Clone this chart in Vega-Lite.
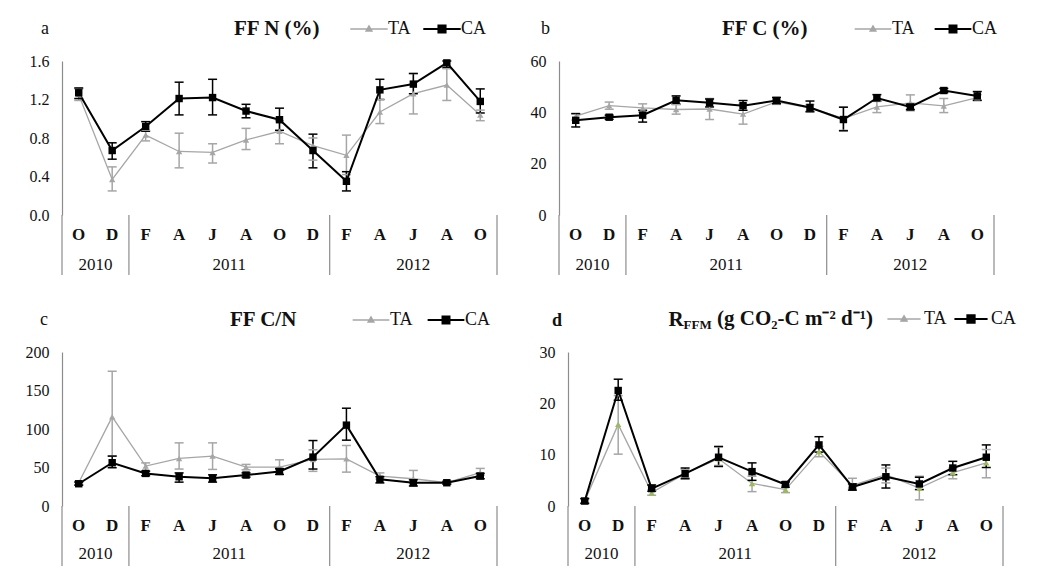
{
  "$schema": "https://vega.github.io/schema/vega-lite/v6.json",
  "background": "white",
  "padding": {"left": 25, "top": 20, "right": 0, "bottom": 0},
  "columns": 1,
  "align": "none",
  "spacing": 32,
  "resolve": {"scale": {"color": "independent"}, "legend": {"color": "independent"}},
  "config": {
    "font": "Liberation Serif",
    "view": {"stroke": null},
    "axis": {"labelFont": "Liberation Serif", "labelFontSize": 16, "labelColor": "#111", "labelPadding": 13, "labelOverlap": false, "domainColor": "#8c8c8c", "domainWidth": 1.2, "ticks": false, "grid": false, "titleFont": "Liberation Serif", "titleColor": "#111"},
    "legend": {"labelFont": "Liberation Serif", "titleFont": "Liberation Serif", "labelColor": "#111", "titleColor": "#111", "symbolOpacity": 1}
  },
  "datasets": {
    "a": [
      {"i":0,"month":"O","year":"2010","treat":"TA","mean":1.25,"lo":1.19,"hi":1.31},
      {"i":1,"month":"D","year":"2010","treat":"TA","mean":0.37,"lo":0.25,"hi":0.50},
      {"i":2,"month":"F","year":"2011","treat":"TA","mean":0.83,"lo":0.77,"hi":0.88},
      {"i":3,"month":"A","year":"2011","treat":"TA","mean":0.66,"lo":0.49,"hi":0.85},
      {"i":4,"month":"J","year":"2011","treat":"TA","mean":0.65,"lo":0.54,"hi":0.74},
      {"i":5,"month":"A","year":"2011","treat":"TA","mean":0.78,"lo":0.68,"hi":0.90},
      {"i":6,"month":"O","year":"2011","treat":"TA","mean":0.87,"lo":0.74,"hi":0.98},
      {"i":7,"month":"D","year":"2011","treat":"TA","mean":0.72,"lo":0.57,"hi":0.80},
      {"i":8,"month":"F","year":"2012","treat":"TA","mean":0.62,"lo":0.42,"hi":0.83},
      {"i":9,"month":"A","year":"2012","treat":"TA","mean":1.07,"lo":0.95,"hi":1.20},
      {"i":10,"month":"J","year":"2012","treat":"TA","mean":1.26,"lo":1.05,"hi":1.47},
      {"i":11,"month":"A","year":"2012","treat":"TA","mean":1.35,"lo":1.19,"hi":1.52},
      {"i":12,"month":"O","year":"2012","treat":"TA","mean":1.04,"lo":0.98,"hi":1.09},
      {"i":0,"month":"O","year":"2010","treat":"CA","mean":1.27,"lo":1.21,"hi":1.32},
      {"i":1,"month":"D","year":"2010","treat":"CA","mean":0.67,"lo":0.58,"hi":0.75},
      {"i":2,"month":"F","year":"2011","treat":"CA","mean":0.92,"lo":0.87,"hi":0.97},
      {"i":3,"month":"A","year":"2011","treat":"CA","mean":1.21,"lo":1.04,"hi":1.38},
      {"i":4,"month":"J","year":"2011","treat":"CA","mean":1.22,"lo":1.04,"hi":1.41},
      {"i":5,"month":"A","year":"2011","treat":"CA","mean":1.08,"lo":1.01,"hi":1.15},
      {"i":6,"month":"O","year":"2011","treat":"CA","mean":0.99,"lo":0.88,"hi":1.11},
      {"i":7,"month":"D","year":"2011","treat":"CA","mean":0.67,"lo":0.49,"hi":0.84},
      {"i":8,"month":"F","year":"2012","treat":"CA","mean":0.35,"lo":0.25,"hi":0.45},
      {"i":9,"month":"A","year":"2012","treat":"CA","mean":1.30,"lo":1.20,"hi":1.41},
      {"i":10,"month":"J","year":"2012","treat":"CA","mean":1.36,"lo":1.26,"hi":1.47},
      {"i":11,"month":"A","year":"2012","treat":"CA","mean":1.58,"lo":1.53,"hi":1.60},
      {"i":12,"month":"O","year":"2012","treat":"CA","mean":1.18,"lo":1.06,"hi":1.31}
    ],
    "b": [
      {"i":0,"month":"O","year":"2010","treat":"TA","mean":38.5,"lo":37.0,"hi":39.5},
      {"i":1,"month":"D","year":"2010","treat":"TA","mean":42.6,"lo":41.2,"hi":44.0},
      {"i":2,"month":"F","year":"2011","treat":"TA","mean":41.7,"lo":40.1,"hi":43.3},
      {"i":3,"month":"A","year":"2011","treat":"TA","mean":41.1,"lo":39.3,"hi":43.0},
      {"i":4,"month":"J","year":"2011","treat":"TA","mean":41.3,"lo":37.2,"hi":45.4},
      {"i":5,"month":"A","year":"2011","treat":"TA","mean":39.3,"lo":35.4,"hi":43.2},
      {"i":6,"month":"O","year":"2011","treat":"TA","mean":44.1,"lo":43.1,"hi":45.1},
      {"i":7,"month":"D","year":"2011","treat":"TA","mean":41.7,"lo":40.5,"hi":43.0},
      {"i":8,"month":"F","year":"2012","treat":"TA","mean":37.6,"lo":33.0,"hi":42.0},
      {"i":9,"month":"A","year":"2012","treat":"TA","mean":42.1,"lo":39.9,"hi":44.3},
      {"i":10,"month":"J","year":"2012","treat":"TA","mean":43.7,"lo":40.6,"hi":46.8},
      {"i":11,"month":"A","year":"2012","treat":"TA","mean":42.5,"lo":39.9,"hi":45.4},
      {"i":12,"month":"O","year":"2012","treat":"TA","mean":45.7,"lo":44.5,"hi":46.9},
      {"i":0,"month":"O","year":"2010","treat":"CA","mean":36.9,"lo":34.3,"hi":39.5},
      {"i":1,"month":"D","year":"2010","treat":"CA","mean":38.1,"lo":37.3,"hi":38.9},
      {"i":2,"month":"F","year":"2011","treat":"CA","mean":38.9,"lo":36.2,"hi":40.8},
      {"i":3,"month":"A","year":"2011","treat":"CA","mean":44.7,"lo":43.2,"hi":46.4},
      {"i":4,"month":"J","year":"2011","treat":"CA","mean":43.7,"lo":42.1,"hi":45.2},
      {"i":5,"month":"A","year":"2011","treat":"CA","mean":42.6,"lo":40.8,"hi":44.6},
      {"i":6,"month":"O","year":"2011","treat":"CA","mean":44.6,"lo":43.4,"hi":45.8},
      {"i":7,"month":"D","year":"2011","treat":"CA","mean":41.9,"lo":40.2,"hi":44.4},
      {"i":8,"month":"F","year":"2012","treat":"CA","mean":37.2,"lo":32.8,"hi":42.0},
      {"i":9,"month":"A","year":"2012","treat":"CA","mean":45.6,"lo":44.3,"hi":46.9},
      {"i":10,"month":"J","year":"2012","treat":"CA","mean":42.1,"lo":41.1,"hi":43.1},
      {"i":11,"month":"A","year":"2012","treat":"CA","mean":48.5,"lo":47.7,"hi":49.3},
      {"i":12,"month":"O","year":"2012","treat":"CA","mean":46.4,"lo":44.7,"hi":48.1}
    ],
    "c": [
      {"i":0,"month":"O","year":"2010","treat":"TA","mean":30.2,"lo":28,"hi":32},
      {"i":1,"month":"D","year":"2010","treat":"TA","mean":115.8,"lo":65,"hi":175},
      {"i":2,"month":"F","year":"2011","treat":"TA","mean":51.8,"lo":45,"hi":56},
      {"i":3,"month":"A","year":"2011","treat":"TA","mean":61.8,"lo":48,"hi":82},
      {"i":4,"month":"J","year":"2011","treat":"TA","mean":64.8,"lo":47.5,"hi":82},
      {"i":5,"month":"A","year":"2011","treat":"TA","mean":50.5,"lo":47,"hi":54},
      {"i":6,"month":"O","year":"2011","treat":"TA","mean":50.5,"lo":47.5,"hi":60},
      {"i":7,"month":"D","year":"2011","treat":"TA","mean":60.5,"lo":45,"hi":73},
      {"i":8,"month":"F","year":"2012","treat":"TA","mean":61.3,"lo":44,"hi":78.6},
      {"i":9,"month":"A","year":"2012","treat":"TA","mean":38.9,"lo":35,"hi":43},
      {"i":10,"month":"J","year":"2012","treat":"TA","mean":35.4,"lo":30,"hi":46.2},
      {"i":11,"month":"A","year":"2012","treat":"TA","mean":30.2,"lo":28.5,"hi":32},
      {"i":12,"month":"O","year":"2012","treat":"TA","mean":43.2,"lo":40,"hi":48.8},
      {"i":0,"month":"O","year":"2010","treat":"CA","mean":28.9,"lo":27,"hi":31},
      {"i":1,"month":"D","year":"2010","treat":"CA","mean":56.2,"lo":49.7,"hi":64.8},
      {"i":2,"month":"F","year":"2011","treat":"CA","mean":42.3,"lo":39.3,"hi":45.3},
      {"i":3,"month":"A","year":"2011","treat":"CA","mean":38,"lo":31,"hi":43},
      {"i":4,"month":"J","year":"2011","treat":"CA","mean":35.9,"lo":31,"hi":40.5},
      {"i":5,"month":"A","year":"2011","treat":"CA","mean":40.2,"lo":37.5,"hi":43},
      {"i":6,"month":"O","year":"2011","treat":"CA","mean":44.9,"lo":41,"hi":48.5},
      {"i":7,"month":"D","year":"2011","treat":"CA","mean":63.5,"lo":48,"hi":85},
      {"i":8,"month":"F","year":"2012","treat":"CA","mean":105,"lo":85.5,"hi":127},
      {"i":9,"month":"A","year":"2012","treat":"CA","mean":34.6,"lo":30,"hi":38},
      {"i":10,"month":"J","year":"2012","treat":"CA","mean":30.2,"lo":26,"hi":34},
      {"i":11,"month":"A","year":"2012","treat":"CA","mean":30.2,"lo":28.5,"hi":32},
      {"i":12,"month":"O","year":"2012","treat":"CA","mean":38.9,"lo":35.4,"hi":42.4}
    ],
    "d": [
      {"i":0,"month":"O","year":"2010","treat":"TA","mean":1.0,"lo":0.6,"hi":1.4},
      {"i":1,"month":"D","year":"2010","treat":"TA","mean":15.9,"lo":10.1,"hi":21.5},
      {"i":2,"month":"F","year":"2011","treat":"TA","mean":2.6,"lo":2.1,"hi":3.1},
      {"i":3,"month":"A","year":"2011","treat":"TA","mean":6.3,"lo":5.5,"hi":7.1},
      {"i":4,"month":"J","year":"2011","treat":"TA","mean":9.2,"lo":7.9,"hi":11.5},
      {"i":5,"month":"A","year":"2011","treat":"TA","mean":4.4,"lo":2.8,"hi":5.8},
      {"i":6,"month":"O","year":"2011","treat":"TA","mean":3.2,"lo":2.6,"hi":3.9},
      {"i":7,"month":"D","year":"2011","treat":"TA","mean":10.6,"lo":9.6,"hi":11.6},
      {"i":8,"month":"F","year":"2012","treat":"TA","mean":4.0,"lo":3.5,"hi":5.4},
      {"i":9,"month":"A","year":"2012","treat":"TA","mean":6.1,"lo":4.5,"hi":7.4},
      {"i":10,"month":"J","year":"2012","treat":"TA","mean":3.5,"lo":1.2,"hi":5.8},
      {"i":11,"month":"A","year":"2012","treat":"TA","mean":6.5,"lo":5.3,"hi":7.4},
      {"i":12,"month":"O","year":"2012","treat":"TA","mean":8.4,"lo":5.5,"hi":11.0},
      {"i":0,"month":"O","year":"2010","treat":"CA","mean":0.97,"lo":0.5,"hi":1.45},
      {"i":1,"month":"D","year":"2010","treat":"CA","mean":22.5,"lo":20.6,"hi":24.7},
      {"i":2,"month":"F","year":"2011","treat":"CA","mean":3.4,"lo":2.9,"hi":4.1},
      {"i":3,"month":"A","year":"2011","treat":"CA","mean":6.3,"lo":5.3,"hi":7.4},
      {"i":4,"month":"J","year":"2011","treat":"CA","mean":9.5,"lo":7.7,"hi":11.6},
      {"i":5,"month":"A","year":"2011","treat":"CA","mean":6.7,"lo":5.0,"hi":8.4},
      {"i":6,"month":"O","year":"2011","treat":"CA","mean":4.2,"lo":3.7,"hi":4.7},
      {"i":7,"month":"D","year":"2011","treat":"CA","mean":11.9,"lo":10.5,"hi":13.5},
      {"i":8,"month":"F","year":"2012","treat":"CA","mean":3.7,"lo":3.1,"hi":4.3},
      {"i":9,"month":"A","year":"2012","treat":"CA","mean":5.7,"lo":3.5,"hi":8.0},
      {"i":10,"month":"J","year":"2012","treat":"CA","mean":4.3,"lo":3.2,"hi":5.6},
      {"i":11,"month":"A","year":"2012","treat":"CA","mean":7.4,"lo":6.1,"hi":8.7},
      {"i":12,"month":"O","year":"2012","treat":"CA","mean":9.5,"lo":7.5,"hi":11.9}
    ]
  },
  "concat": [
    {
      "spacing": 28,
      "resolve": {"scale": {"color": "independent"}, "legend": {"color": "independent"}},
      "hconcat": [
        {
          "width": 435, "height": 154,
          "data": {"name": "a"},
          "title": {"text": "a", "frame": "group", "anchor": "start", "dx": -21, "offset": -32, "baseline": "alphabetic", "fontSize": 18, "fontWeight": "normal", "font": "Liberation Serif", "color": "#111"},
          "encoding": {"x": {"field": "i", "type": "quantitative", "scale": {"domain": [-0.5, 12.5]}, "axis": null}},
          "layer": [
            {"mark": {"type": "line", "strokeWidth": 1.3}, "transform": [{"filter": "datum.treat === 'TA'"}], "encoding": {
              "y": {"field": "mean", "type": "quantitative", "scale": {"domain": [0, 1.6], "nice": false}, "axis": {"values": [0, 0.4, 0.8, 1.2, 1.6], "tickCount": 5, "labelOverlap": false, "format": ".1f", "title": null, "minExtent": 33}},
              "color": {"field": "treat", "type": "nominal", "scale": {"domain": ["TA", "CA"], "range": ["#a6a6a6", "#000000"]},
                "legend": {"orient": "none", "legendX": 172, "legendY": -41, "direction": "horizontal", "title": "FF N (%)", "titleOrient": "left", "titleAnchor": "middle", "titleBaseline": "middle", "titleFontSize": 21, "titleFontWeight": "bold", "titlePadding": 39, "labelFontSize": 18, "labelOffset": 10, "columnPadding": 8, "symbolSize": 1400,
                  "symbolType": {"expr": "datum.value === 'TA' ? 'M-1,0H1M0,-0.17L0.16,0.11H-0.16Z' : 'M-1,0H1M-0.19,-0.19H0.19V0.19H-0.19Z'"},
                  "symbolFillColor": {"expr": "datum.value === 'TA' ? '#a6a6a6' : '#000000'"},
                  "symbolStrokeWidth": {"expr": "datum.value === 'TA' ? 1.3 : 2"}}}}},
            {"transform": [{"aggregate": [{"op": "count", "as": "n"}]}], "mark": {"type": "rule", "color": "#8c8c8c", "strokeWidth": 1.2}, "encoding": {"x": {"datum": -0.5}, "x2": {"datum": 12.5}, "y": {"datum": 0}}},
            {"transform": [{"aggregate": [{"op": "max", "field": "i", "as": "i_max"}]}], "mark": {"type": "rule", "color": "#8c8c8c", "strokeWidth": 1.2, "xOffset": 16.73, "y2Offset": 60}, "encoding": {"x": {"field": "i_max", "type": "quantitative"}, "y": {"datum": 0}, "y2": {"datum": 0}}},
            {"transform": [{"aggregate": [{"op": "min", "field": "i", "as": "i_min"}], "groupby": ["year"]}], "mark": {"type": "rule", "color": "#8c8c8c", "strokeWidth": 1.2, "xOffset": -16.73, "y2Offset": 60}, "encoding": {"x": {"field": "i_min", "type": "quantitative"}, "y": {"datum": 0}, "y2": {"datum": 0}}},
            {"transform": [{"filter": "datum.treat === 'CA'"}], "mark": {"type": "text", "yOffset": 20, "fontSize": 17, "fontWeight": "bold", "color": "#111", "baseline": "middle"}, "encoding": {"y": {"datum": 0}, "text": {"field": "month"}}},
            {"transform": [{"aggregate": [{"op": "mean", "field": "i", "as": "i_mid"}], "groupby": ["year"]}], "mark": {"type": "text", "yOffset": 50, "fontSize": 17, "color": "#111", "baseline": "middle"}, "encoding": {"x": {"field": "i_mid", "type": "quantitative"}, "y": {"datum": 0}, "text": {"field": "year"}}},
            {"mark": {"type": "rule", "strokeWidth": 1.5}, "encoding": {"y": {"field": "lo", "type": "quantitative"}, "y2": {"field": "hi"}, "color": {"field": "treat", "type": "nominal"}}},
            {"mark": {"type": "rule", "strokeWidth": 1.5, "xOffset": -4.5, "x2Offset": 4.5}, "encoding": {"x2": {"field": "i"}, "y": {"field": "lo", "type": "quantitative"}, "color": {"field": "treat", "type": "nominal"}}},
            {"mark": {"type": "rule", "strokeWidth": 1.5, "xOffset": -4.5, "x2Offset": 4.5}, "encoding": {"x2": {"field": "i"}, "y": {"field": "hi", "type": "quantitative"}, "color": {"field": "treat", "type": "nominal"}}},
            {"mark": {"type": "line", "strokeWidth": 2}, "transform": [{"filter": "datum.treat === 'CA'"}], "encoding": {"y": {"field": "mean", "type": "quantitative"}, "color": {"field": "treat", "type": "nominal"}}},
            {"mark": {"type": "point", "shape": "triangle-up", "filled": true, "opacity": 1, "size": 40}, "transform": [{"filter": "datum.treat === 'TA'"}], "encoding": {"y": {"field": "mean", "type": "quantitative"}, "color": {"field": "treat", "type": "nominal"}}},
            {"mark": {"type": "point", "shape": "square", "filled": true, "opacity": 1, "size": 55}, "transform": [{"filter": "datum.treat === 'CA'"}], "encoding": {"y": {"field": "mean", "type": "quantitative"}, "color": {"field": "treat", "type": "nominal"}}}
          ]
        },
        {
          "width": 435, "height": 154,
          "data": {"name": "b"},
          "title": {"text": "b", "frame": "group", "anchor": "start", "dx": -18, "offset": -32, "baseline": "alphabetic", "fontSize": 18, "fontWeight": "normal", "font": "Liberation Serif", "color": "#111"},
          "encoding": {"x": {"field": "i", "type": "quantitative", "scale": {"domain": [-0.5, 12.5]}, "axis": null}},
          "layer": [
            {"mark": {"type": "line", "strokeWidth": 1.3}, "transform": [{"filter": "datum.treat === 'TA'"}], "encoding": {
              "y": {"field": "mean", "type": "quantitative", "scale": {"domain": [0, 60], "nice": false}, "axis": {"values": [0, 20, 40, 60], "tickCount": 4, "labelOverlap": false, "format": "d", "title": null, "minExtent": 33}},
              "color": {"field": "treat", "type": "nominal", "scale": {"domain": ["TA", "CA"], "range": ["#a6a6a6", "#000000"]},
                "legend": {"orient": "none", "legendX": 163, "legendY": -41, "direction": "horizontal", "title": "FF C (%)", "titleOrient": "left", "titleAnchor": "middle", "titleBaseline": "middle", "titleFontSize": 21, "titleFontWeight": "bold", "titlePadding": 55, "labelFontSize": 18, "labelOffset": 10, "columnPadding": 15, "symbolSize": 1350,
                  "symbolType": {"expr": "datum.value === 'TA' ? 'M-1,0H1M0,-0.17L0.16,0.11H-0.16Z' : 'M-1,0H1M-0.19,-0.19H0.19V0.19H-0.19Z'"},
                  "symbolFillColor": {"expr": "datum.value === 'TA' ? '#a6a6a6' : '#000000'"},
                  "symbolStrokeWidth": {"expr": "datum.value === 'TA' ? 1.3 : 2"}}}}},
            {"transform": [{"aggregate": [{"op": "count", "as": "n"}]}], "mark": {"type": "rule", "color": "#8c8c8c", "strokeWidth": 1.2}, "encoding": {"x": {"datum": -0.5}, "x2": {"datum": 12.5}, "y": {"datum": 0}}},
            {"transform": [{"aggregate": [{"op": "max", "field": "i", "as": "i_max"}]}], "mark": {"type": "rule", "color": "#8c8c8c", "strokeWidth": 1.2, "xOffset": 16.73, "y2Offset": 60}, "encoding": {"x": {"field": "i_max", "type": "quantitative"}, "y": {"datum": 0}, "y2": {"datum": 0}}},
            {"transform": [{"aggregate": [{"op": "min", "field": "i", "as": "i_min"}], "groupby": ["year"]}], "mark": {"type": "rule", "color": "#8c8c8c", "strokeWidth": 1.2, "xOffset": -16.73, "y2Offset": 60}, "encoding": {"x": {"field": "i_min", "type": "quantitative"}, "y": {"datum": 0}, "y2": {"datum": 0}}},
            {"transform": [{"filter": "datum.treat === 'CA'"}], "mark": {"type": "text", "yOffset": 20, "fontSize": 17, "fontWeight": "bold", "color": "#111", "baseline": "middle"}, "encoding": {"y": {"datum": 0}, "text": {"field": "month"}}},
            {"transform": [{"aggregate": [{"op": "mean", "field": "i", "as": "i_mid"}], "groupby": ["year"]}], "mark": {"type": "text", "yOffset": 50, "fontSize": 17, "color": "#111", "baseline": "middle"}, "encoding": {"x": {"field": "i_mid", "type": "quantitative"}, "y": {"datum": 0}, "text": {"field": "year"}}},
            {"mark": {"type": "rule", "strokeWidth": 1.5}, "encoding": {"y": {"field": "lo", "type": "quantitative"}, "y2": {"field": "hi"}, "color": {"field": "treat", "type": "nominal"}}},
            {"mark": {"type": "rule", "strokeWidth": 1.5, "xOffset": -4.5, "x2Offset": 4.5}, "encoding": {"x2": {"field": "i"}, "y": {"field": "lo", "type": "quantitative"}, "color": {"field": "treat", "type": "nominal"}}},
            {"mark": {"type": "rule", "strokeWidth": 1.5, "xOffset": -4.5, "x2Offset": 4.5}, "encoding": {"x2": {"field": "i"}, "y": {"field": "hi", "type": "quantitative"}, "color": {"field": "treat", "type": "nominal"}}},
            {"mark": {"type": "line", "strokeWidth": 2}, "transform": [{"filter": "datum.treat === 'CA'"}], "encoding": {"y": {"field": "mean", "type": "quantitative"}, "color": {"field": "treat", "type": "nominal"}}},
            {"mark": {"type": "point", "shape": "triangle-up", "filled": true, "opacity": 1, "size": 40}, "transform": [{"filter": "datum.treat === 'TA'"}], "encoding": {"y": {"field": "mean", "type": "quantitative"}, "color": {"field": "treat", "type": "nominal"}}},
            {"mark": {"type": "point", "shape": "square", "filled": true, "opacity": 1, "size": 55}, "transform": [{"filter": "datum.treat === 'CA'"}], "encoding": {"y": {"field": "mean", "type": "quantitative"}, "color": {"field": "treat", "type": "nominal"}}}
          ]
        }
      ]
    },
    {
      "spacing": 28,
      "resolve": {"scale": {"color": "independent"}, "legend": {"color": "independent"}},
      "hconcat": [
        {
          "width": 435, "height": 154,
          "data": {"name": "c"},
          "title": {"text": "c", "frame": "group", "anchor": "start", "dx": -22, "offset": -32, "baseline": "alphabetic", "fontSize": 18, "fontWeight": "normal", "font": "Liberation Serif", "color": "#111"},
          "encoding": {"x": {"field": "i", "type": "quantitative", "scale": {"domain": [-0.5, 12.5]}, "axis": null}},
          "layer": [
            {"mark": {"type": "line", "strokeWidth": 1.3}, "transform": [{"filter": "datum.treat === 'TA'"}], "encoding": {
              "y": {"field": "mean", "type": "quantitative", "scale": {"domain": [0, 200], "nice": false}, "axis": {"values": [0, 50, 100, 150, 200], "tickCount": 5, "labelOverlap": false, "format": "d", "title": null, "minExtent": 37}},
              "color": {"field": "treat", "type": "nominal", "scale": {"domain": ["TA", "CA"], "range": ["#a6a6a6", "#000000"]},
                "legend": {"orient": "none", "legendX": 168, "legendY": -41, "direction": "horizontal", "title": "FF C/N", "titleOrient": "left", "titleAnchor": "middle", "titleBaseline": "middle", "titleFontSize": 21, "titleFontWeight": "bold", "titlePadding": 64, "labelFontSize": 18, "labelOffset": 10, "columnPadding": 10, "symbolSize": 1350,
                  "symbolType": {"expr": "datum.value === 'TA' ? 'M-1,0H1M0,-0.17L0.16,0.11H-0.16Z' : 'M-1,0H1M-0.19,-0.19H0.19V0.19H-0.19Z'"},
                  "symbolFillColor": {"expr": "datum.value === 'TA' ? '#a6a6a6' : '#000000'"},
                  "symbolStrokeWidth": {"expr": "datum.value === 'TA' ? 1.3 : 2"}}}}},
            {"transform": [{"aggregate": [{"op": "count", "as": "n"}]}], "mark": {"type": "rule", "color": "#8c8c8c", "strokeWidth": 1.2}, "encoding": {"x": {"datum": -0.5}, "x2": {"datum": 12.5}, "y": {"datum": 0}}},
            {"transform": [{"aggregate": [{"op": "max", "field": "i", "as": "i_max"}]}], "mark": {"type": "rule", "color": "#8c8c8c", "strokeWidth": 1.2, "xOffset": 16.73, "y2Offset": 60}, "encoding": {"x": {"field": "i_max", "type": "quantitative"}, "y": {"datum": 0}, "y2": {"datum": 0}}},
            {"transform": [{"aggregate": [{"op": "min", "field": "i", "as": "i_min"}], "groupby": ["year"]}], "mark": {"type": "rule", "color": "#8c8c8c", "strokeWidth": 1.2, "xOffset": -16.73, "y2Offset": 60}, "encoding": {"x": {"field": "i_min", "type": "quantitative"}, "y": {"datum": 0}, "y2": {"datum": 0}}},
            {"transform": [{"filter": "datum.treat === 'CA'"}], "mark": {"type": "text", "yOffset": 20, "fontSize": 17, "fontWeight": "bold", "color": "#111", "baseline": "middle"}, "encoding": {"y": {"datum": 0}, "text": {"field": "month"}}},
            {"transform": [{"aggregate": [{"op": "mean", "field": "i", "as": "i_mid"}], "groupby": ["year"]}], "mark": {"type": "text", "yOffset": 48, "fontSize": 17, "color": "#111", "baseline": "middle"}, "encoding": {"x": {"field": "i_mid", "type": "quantitative"}, "y": {"datum": 0}, "text": {"field": "year"}}},
            {"mark": {"type": "rule", "strokeWidth": 1.5}, "encoding": {"y": {"field": "lo", "type": "quantitative"}, "y2": {"field": "hi"}, "color": {"field": "treat", "type": "nominal"}}},
            {"mark": {"type": "rule", "strokeWidth": 1.5, "xOffset": -4.5, "x2Offset": 4.5}, "encoding": {"x2": {"field": "i"}, "y": {"field": "lo", "type": "quantitative"}, "color": {"field": "treat", "type": "nominal"}}},
            {"mark": {"type": "rule", "strokeWidth": 1.5, "xOffset": -4.5, "x2Offset": 4.5}, "encoding": {"x2": {"field": "i"}, "y": {"field": "hi", "type": "quantitative"}, "color": {"field": "treat", "type": "nominal"}}},
            {"mark": {"type": "line", "strokeWidth": 2}, "transform": [{"filter": "datum.treat === 'CA'"}], "encoding": {"y": {"field": "mean", "type": "quantitative"}, "color": {"field": "treat", "type": "nominal"}}},
            {"mark": {"type": "point", "shape": "triangle-up", "filled": true, "opacity": 1, "size": 40}, "transform": [{"filter": "datum.treat === 'TA'"}], "encoding": {"y": {"field": "mean", "type": "quantitative"}, "color": {"field": "treat", "type": "nominal"}}},
            {"mark": {"type": "point", "shape": "square", "filled": true, "opacity": 1, "size": 55}, "transform": [{"filter": "datum.treat === 'CA'"}], "encoding": {"y": {"field": "mean", "type": "quantitative"}, "color": {"field": "treat", "type": "nominal"}}}
          ]
        },
        {
          "width": 435, "height": 154,
          "data": {"name": "d"},
          "title": {"text": "d", "frame": "group", "anchor": "start", "dx": -16, "offset": -36, "baseline": "alphabetic", "fontSize": 18, "fontWeight": "bold", "font": "Liberation Serif", "color": "#111"},
          "encoding": {"x": {"field": "i", "type": "quantitative", "scale": {"domain": [-0.5, 12.5]}, "axis": {"orient": "top", "labels": false, "ticks": false, "domain": false, "grid": false, "title": "FFM", "titleFontSize": 13, "titleFontWeight": "bold", "titleAngle": 0, "titleX": 115, "titleY": -24, "titleAlign": "left", "titleBaseline": "alphabetic"}}},
          "layer": [
            {"mark": {"type": "line", "strokeWidth": 1.3}, "transform": [{"filter": "datum.treat === 'TA'"}], "encoding": {
              "y": {"field": "mean", "type": "quantitative", "scale": {"domain": [0, 30], "nice": false}, "axis": {"values": [0, 10, 20, 30], "tickCount": 4, "labelOverlap": false, "format": "d", "minExtent": 42, "title": "R", "titleAngle": 0, "titleX": 100, "titleY": -27, "titleAlign": "left", "titleBaseline": "alphabetic", "titleFontSize": 21, "titleFontWeight": "bold"}},
              "color": {"field": "treat", "type": "nominal", "scale": {"domain": ["TA", "CA"], "range": ["#a6a6a6", "#000000"]},
                "legend": {"orient": "none", "legendX": 149, "legendY": -42, "direction": "horizontal", "title": "(g CO₂-C m⁻² d⁻¹)", "titleOrient": "left", "titleAnchor": "middle", "titleBaseline": "middle", "titleFontSize": 21, "titleFontWeight": "bold", "titlePadding": 22, "labelFontSize": 18, "labelOffset": 11, "columnPadding": 3, "symbolSize": 1100,
                  "symbolType": {"expr": "datum.value === 'TA' ? 'M-1,0H1M0,-0.2L0.19,0.13H-0.19Z' : 'M-1,0H1M-0.22,-0.22H0.22V0.22H-0.22Z'"},
                  "symbolFillColor": {"expr": "datum.value === 'TA' ? '#9bbb59' : '#000000'"},
                  "symbolStrokeWidth": {"expr": "datum.value === 'TA' ? 1.3 : 2"}}}}},
            {"transform": [{"aggregate": [{"op": "count", "as": "n"}]}], "mark": {"type": "rule", "color": "#8c8c8c", "strokeWidth": 1.2}, "encoding": {"x": {"datum": -0.5}, "x2": {"datum": 12.5}, "y": {"datum": 0}}},
            {"transform": [{"aggregate": [{"op": "max", "field": "i", "as": "i_max"}]}], "mark": {"type": "rule", "color": "#8c8c8c", "strokeWidth": 1.2, "xOffset": 16.73, "y2Offset": 60}, "encoding": {"x": {"field": "i_max", "type": "quantitative"}, "y": {"datum": 0}, "y2": {"datum": 0}}},
            {"transform": [{"aggregate": [{"op": "min", "field": "i", "as": "i_min"}], "groupby": ["year"]}], "mark": {"type": "rule", "color": "#8c8c8c", "strokeWidth": 1.2, "xOffset": -16.73, "y2Offset": 60}, "encoding": {"x": {"field": "i_min", "type": "quantitative"}, "y": {"datum": 0}, "y2": {"datum": 0}}},
            {"transform": [{"filter": "datum.treat === 'CA'"}], "mark": {"type": "text", "yOffset": 20, "fontSize": 17, "fontWeight": "bold", "color": "#111", "baseline": "middle"}, "encoding": {"y": {"datum": 0}, "text": {"field": "month"}}},
            {"transform": [{"aggregate": [{"op": "mean", "field": "i", "as": "i_mid"}], "groupby": ["year"]}], "mark": {"type": "text", "yOffset": 48, "fontSize": 17, "color": "#111", "baseline": "middle"}, "encoding": {"x": {"field": "i_mid", "type": "quantitative"}, "y": {"datum": 0}, "text": {"field": "year"}}},
            {"mark": {"type": "rule", "strokeWidth": 1.5}, "encoding": {"y": {"field": "lo", "type": "quantitative"}, "y2": {"field": "hi"}, "color": {"field": "treat", "type": "nominal"}}},
            {"mark": {"type": "rule", "strokeWidth": 1.5, "xOffset": -4.5, "x2Offset": 4.5}, "encoding": {"x2": {"field": "i"}, "y": {"field": "lo", "type": "quantitative"}, "color": {"field": "treat", "type": "nominal"}}},
            {"mark": {"type": "rule", "strokeWidth": 1.5, "xOffset": -4.5, "x2Offset": 4.5}, "encoding": {"x2": {"field": "i"}, "y": {"field": "hi", "type": "quantitative"}, "color": {"field": "treat", "type": "nominal"}}},
            {"mark": {"type": "line", "strokeWidth": 2}, "transform": [{"filter": "datum.treat === 'CA'"}], "encoding": {"y": {"field": "mean", "type": "quantitative"}, "color": {"field": "treat", "type": "nominal"}}},
            {"mark": {"type": "point", "shape": "triangle-up", "filled": true, "opacity": 1, "size": 40, "color": "#9bbb59"}, "transform": [{"filter": "datum.treat === 'TA'"}], "encoding": {"y": {"field": "mean", "type": "quantitative"}}},
            {"mark": {"type": "point", "shape": "square", "filled": true, "opacity": 1, "size": 55}, "transform": [{"filter": "datum.treat === 'CA'"}], "encoding": {"y": {"field": "mean", "type": "quantitative"}, "color": {"field": "treat", "type": "nominal"}}}
          ]
        }
      ]
    }
  ]
}
